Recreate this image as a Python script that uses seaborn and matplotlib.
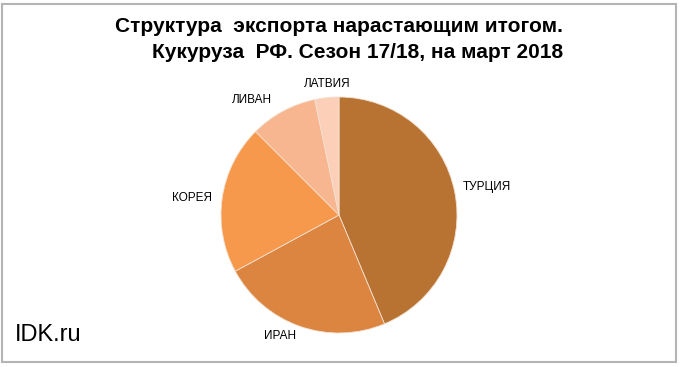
import numpy as np
import matplotlib
matplotlib.use("Agg")
import matplotlib.pyplot as plt
import seaborn as sns

countries = ["ТУРЦИЯ", "ИРАН", "КОРЕЯ", "ЛИВАН", "ЛАТВИЯ"]
shares = [43.7, 23.4, 20.4, 9.2, 3.3]
colors = ["#B87333", "#DB8541", "#F7994C", "#F8B690", "#FBCFB8"]
title_lines = ["Структура  экспорта нарастающим итогом.",
               "Кукуруза  РФ. Сезон 17/18, на март 2018"]
watermark = "IDK.ru"

sns.set_style("white")
plt.rcParams['font.family'] = ['Liberation Sans', 'DejaVu Sans']
plt.rcParams['text.color'] = 'black'

W, H = 680, 367
fig = plt.figure(figsize=(W / 100, H / 100), dpi=100)
fig.patch.set_facecolor("white")

# frame
fig.add_artist(plt.Rectangle((1.5 / W, (H - 361.5) / H), 674 / W, 358 / H,
                             transform=fig.transFigure, fill=False,
                             edgecolor="#b4b4b4", linewidth=1.5))

cx, cy, R = 339, 215, 118
ax = fig.add_axes([(cx - R) / W, (H - cy - R) / H, 2 * R / W, 2 * R / H])
wedges, texts = ax.pie(shares, colors=colors, startangle=90, counterclock=False,
                       labels=countries, labeldistance=1.2,
                       wedgeprops=dict(edgecolor="#f3e0d0", linewidth=0.6),
                       textprops=dict(fontsize=8.5, color="black", ha="center", va="center"))
# label placement (outside end, Excel-like)
label_pos = [(1.254, 0.237), (-0.50, -1.025), (-1.246, 0.144), (-0.737, 0.975), (-0.102, 1.110)]
for t, p in zip(texts, label_pos):
    t.set_position(p)
    t.set_ha("center")
ax.set_xlim(-1, 1)
ax.set_ylim(-1, 1)
ax.set_aspect("equal")
ax.axis("off")

fig.text(563 / W, 1 - 26 / H, title_lines[0], ha="right", va="center",
         fontsize=15, fontweight="bold", color="black")
fig.text(563 / W, 1 - 52 / H, title_lines[1], ha="right", va="center",
         fontsize=15, fontweight="bold", color="black")
fig.text(15 / W, 1 - 335 / H, watermark, ha="left", va="center", fontsize=17, color="black")

fig.savefig("out.png", dpi=100, facecolor="white")
